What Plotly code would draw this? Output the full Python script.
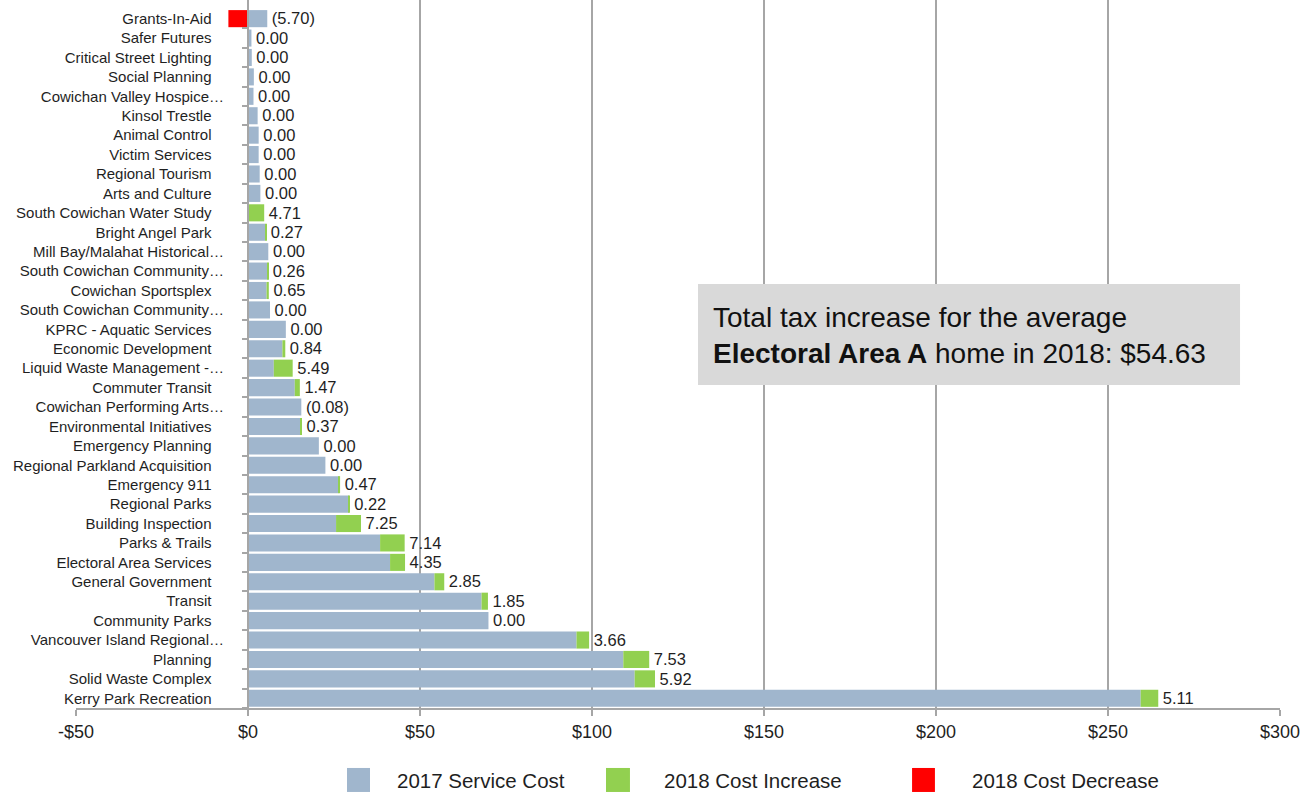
import plotly.graph_objects as go

# ---- data (top row first) ----
services = [
    "Grants-In-Aid", "Safer Futures", "Critical Street Lighting", "Social Planning",
    "Cowichan Valley Hospice…", "Kinsol Trestle", "Animal Control", "Victim Services",
    "Regional Tourism", "Arts and Culture", "South Cowichan Water Study", "Bright Angel Park",
    "Mill Bay/Malahat Historical…", "South Cowichan Community…", "Cowichan Sportsplex",
    "South Cowichan Community…", "KPRC - Aquatic Services", "Economic Development",
    "Liquid Waste Management -…", "Commuter Transit", "Cowichan Performing Arts…",
    "Environmental Initiatives", "Emergency Planning", "Regional Parkland Acquisition",
    "Emergency 911", "Regional Parks", "Building Inspection", "Parks & Trails",
    "Electoral Area Services", "General Government", "Transit", "Community Parks",
    "Vancouver Island Regional…", "Planning", "Solid Waste Complex", "Kerry Park Recreation",
]
cost_2017 = [
    5.6, 1.0, 1.1, 1.7, 1.6, 2.8, 3.1, 3.1, 3.4, 3.6, 0.0, 5.0,
    5.9, 5.6, 5.4, 6.4, 11.0, 10.0, 7.5, 13.6, 15.5, 15.3, 20.6, 22.5,
    26.3, 29.3, 25.6, 38.4, 41.3, 54.2, 67.9, 69.9, 95.5, 109.1, 112.4, 259.5,
]
increase_2018 = [
    0, 0, 0, 0, 0, 0, 0, 0, 0, 0, 4.71, 0.27,
    0, 0.26, 0.65, 0, 0, 0.84, 5.49, 1.47, 0, 0.37, 0, 0,
    0.47, 0.22, 7.25, 7.14, 4.35, 2.85, 1.85, 0, 3.66, 7.53, 5.92, 5.11,
]
decrease_2018 = [
    5.70, 0, 0, 0, 0, 0, 0, 0, 0, 0, 0, 0,
    0, 0, 0, 0, 0, 0, 0, 0, 0.08, 0, 0, 0,
    0, 0, 0, 0, 0, 0, 0, 0, 0, 0, 0, 0,
]
x_ticks = [-50, 0, 50, 100, 150, 200, 250, 300]
x_tick_labels = ["-$50", "$0", "$50", "$100", "$150", "$200", "$250", "$300"]
series_names = ["2017 Service Cost", "2018 Cost Increase", "2018 Cost Decrease"]
total_text = "Total tax increase for the average<br><b>Electoral Area A</b> home in 2018: $54.63"

BLUE = "#A0B6CD"
GREEN = "#92D050"
RED = "#FF0000"
GRID = "#A6A6A6"
TXT = "#1F1F1F"
FONT = "Liberation Sans, Arial, sans-serif"

n = len(services)
ypos = list(range(n))

def fmt(inc, dec):
    v = inc - dec
    s = f"({abs(v):.2f})" if v < 0 else f"{v:.2f}"
    return "\u00a0" + s

labels = [fmt(i, d) for i, d in zip(increase_2018, decrease_2018)]
label_x = [c + i for c, i in zip(cost_2017, increase_2018)]
tick_text = [s if s.endswith("…") else s + "\u00a0\u00a0\u00a0" for s in services]

fig = go.Figure()
fig.add_bar(y=ypos, x=cost_2017, orientation="h", marker=dict(color=BLUE, line_width=0),
            name=series_names[0], showlegend=False, hoverinfo="x+name")
fig.add_bar(y=ypos, x=increase_2018, orientation="h", marker=dict(color=GREEN, line_width=0),
            name=series_names[1], showlegend=False)
fig.add_bar(y=ypos, x=[-d for d in decrease_2018], orientation="h",
            marker=dict(color=RED, line_width=0), name=series_names[2], showlegend=False)
fig.add_scatter(y=[p + 0.08 for p in ypos], x=label_x, mode="text", text=labels,
                textposition="middle right", textfont=dict(size=16.5, color=TXT, family=FONT),
                showlegend=False, hoverinfo="skip", cliponaxis=False)

fig.update_layout(
    width=1305, height=792,
    margin=dict(l=76, r=25, t=0, b=84),
    paper_bgcolor="white", plot_bgcolor="white",
    barmode="relative", bargap=0.12,
    font=dict(family=FONT, color=TXT),
    xaxis=dict(
        range=[-50, 300], tickvals=x_ticks, ticktext=x_tick_labels,
        showgrid=True, gridcolor=GRID, gridwidth=2, zeroline=False,
        showline=True, linecolor=GRID, linewidth=2,
        ticks="outside", ticklen=6, tickwidth=2, tickcolor=GRID,
        tickfont=dict(size=18, color=TXT, family=FONT),
    ),
    yaxis=dict(
        range=[n - 0.5, -0.96], tickvals=ypos, ticktext=tick_text,
        anchor="free", position=50 / 350, side="left",
        showgrid=False, zeroline=False,
        showline=True, linecolor=GRID, linewidth=2,
        ticks="", ticklabelstandoff=20,
        minor=dict(tickvals=[p + 0.5 for p in ypos], ticks="outside", ticklen=5,
                   tickwidth=2, tickcolor=GRID, showgrid=False),
        tickfont=dict(size=15, color=TXT, family=FONT),
    ),
)

# summary box
fig.add_shape(type="rect", xref="paper", yref="paper", x0=0.5166, x1=0.9668,
              y0=0.4562, y1=0.5989, fillcolor="#D9D9D9", line_width=0, layer="above")
fig.add_annotation(xref="paper", yref="paper", x=0.5275, y=0.5268, xanchor="left",
                   yanchor="middle", align="left", showarrow=False, text=total_text,
                   font=dict(size=28, color="#111111", family=FONT))

# legend
legend_items = [
    (series_names[0], BLUE, 0.2251, 0.2442, 0.2650),
    (series_names[1], GREEN, 0.4402, 0.4601, 0.4867),
    (series_names[2], RED, 0.6944, 0.7134, 0.7425),
]
for name, col, sx0, sx1, tx in legend_items:
    fig.add_shape(type="rect", xref="paper", yref="paper", x0=sx0, x1=sx1,
                  y0=-0.1186, y1=-0.0847, fillcolor=col, line_width=0)
    fig.add_annotation(xref="paper", yref="paper", x=tx, y=-0.1031, xanchor="left",
                       yanchor="middle", showarrow=False, text=name,
                       font=dict(size=20.5, color=TXT, family=FONT))

fig.write_html("out.html")
